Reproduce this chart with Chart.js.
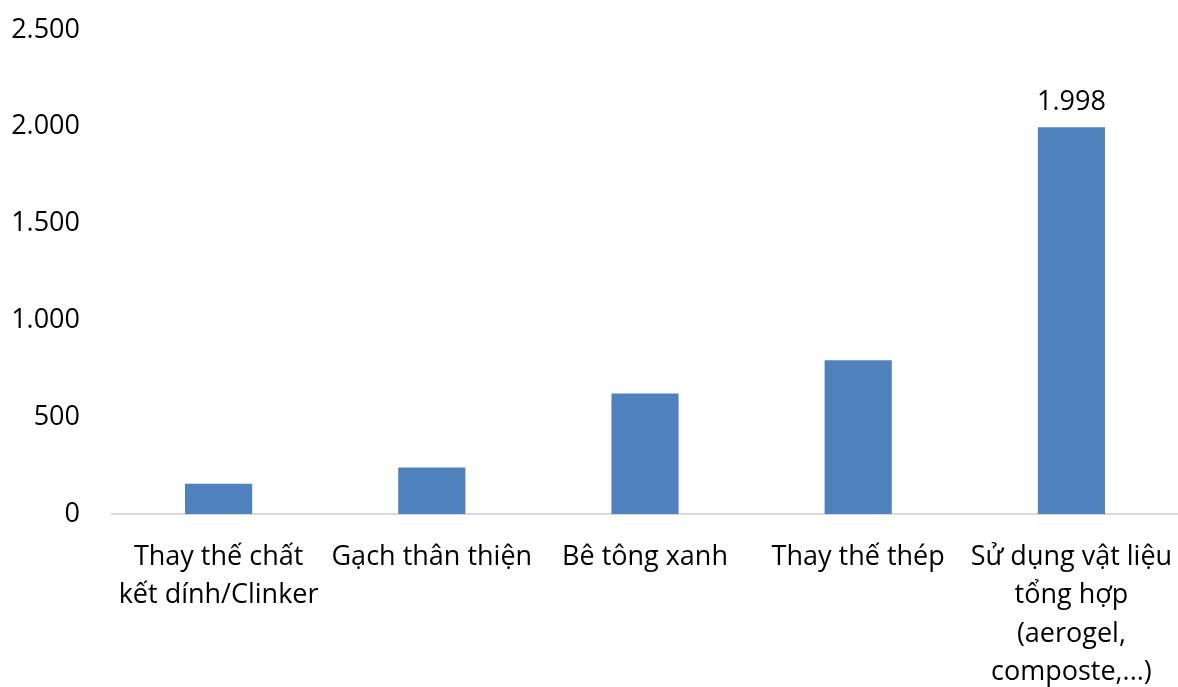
<!DOCTYPE html>
<html lang="vi">
<head>
<meta charset="utf-8">
<style>
  html, body { margin: 0; padding: 0; background: #ffffff; }
  #wrap { width: 1178px; height: 687px; }
</style>
<script src="https://cdn.jsdelivr.net/npm/chart.js@4/dist/chart.umd.min.js"></script>
</head>
<body>
<div id="wrap"><canvas id="chart" width="1178" height="687"></canvas></div>
<script>
// Categories (multi-line labels) and values
const categories = [
  ['Thay thế chất', 'kết dính/Clinker'],
  ['Gạch thân thiện'],
  ['Bê tông xanh'],
  ['Thay thế thép'],
  ['Sử dụng vật liệu', 'tổng hợp', '(aerogel,', 'composte,...)']
];
const values = [156, 240, 622, 794, 1998];
// Only this bar carries a value label
const labelledIndex = [4];
const yTicks = [0, 500, 1000, 1500, 2000, 2500];

const FONT = "'Open Sans', 'Noto Sans', sans-serif";
const FONT_SIZE = 27;

function fmt(v) {
  return Math.round(v).toString().replace(/\B(?=(\d{3})+(?!\d))/g, '.');
}

const valueLabels = {
  id: 'valueLabels',
  afterDatasetsDraw(chart) {
    const ctx = chart.ctx;
    const meta = chart.getDatasetMeta(0);
    ctx.save();
    ctx.font = FONT_SIZE + 'px ' + FONT;
    ctx.fillStyle = '#000000';
    ctx.textAlign = 'center';
    ctx.textBaseline = 'alphabetic';
    labelledIndex.forEach(i => {
      const bar = meta.data[i];
      ctx.fillText(fmt(values[i]), bar.x, bar.y - 17);
    });
    ctx.restore();
  }
};

new Chart(document.getElementById('chart'), {
  type: 'bar',
  data: {
    labels: categories,
    datasets: [{
      data: values,
      backgroundColor: '#4f81bd',
      borderWidth: 0,
      barPercentage: 0.315,
      categoryPercentage: 1.0
    }]
  },
  options: {
    responsive: false,
    animation: false,
    layout: { padding: { top: 30, right: 0, bottom: 0, left: 0 } },
    plugins: {
      legend: { display: false },
      tooltip: { enabled: false }
    },
    scales: {
      x: {
        grid: { display: false, drawTicks: false },
        border: { display: true, color: '#d9d9d9', width: 2 },
        ticks: {
          color: '#000000',
          font: { family: FONT, size: FONT_SIZE, lineHeight: 1.42 },
          padding: 24,
          maxRotation: 0,
          autoSkip: false
        },
        afterFit(scale) {
          scale.height = 173;
          scale.paddingLeft = 0;
          scale.paddingRight = 0;
        }
      },
      y: {
        min: 0,
        max: 2500,
        afterBuildTicks(scale) { scale.ticks = yTicks.map(v => ({ value: v })); },
        grid: { display: false, drawTicks: false },
        border: { display: false },
        ticks: {
          color: '#000000',
          font: { family: FONT, size: FONT_SIZE },
          padding: 32,
          callback: v => fmt(v)
        },
        afterFit(scale) {
          scale.width = 112;
          scale.paddingTop = 0;
          scale.paddingBottom = 0;
        }
      }
    }
  },
  plugins: [valueLabels]
});
</script>
</body>
</html>
